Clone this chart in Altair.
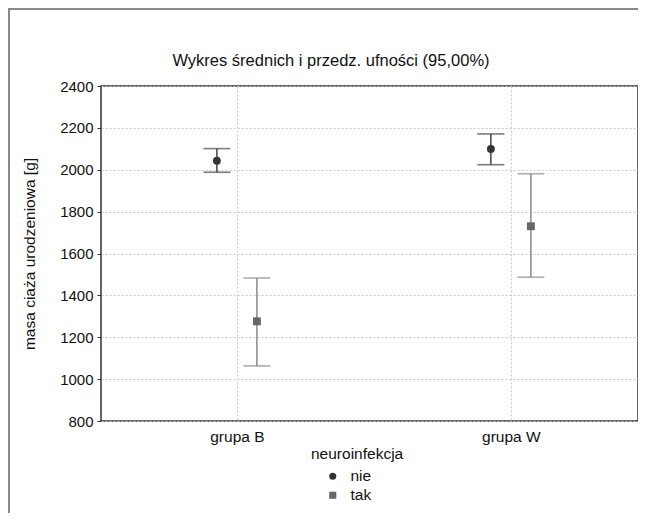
import altair as alt
import pandas as pd

groups = ["grupa B", "grupa W"]
infection = ["nie", "tak"]
# means and 95% CI per (group, infection)
mean_nie = [2043, 2099]
lo_nie = [1988, 2024]
hi_nie = [2101, 2171]
mean_tak = [1276, 1730]
lo_tak = [1063, 1487]
hi_tak = [1483, 1981]

title_text = "Wykres średnich i przedz. ufności (95,00%)"

rows = []
for gi, g in enumerate(groups):
    rows.append(dict(group=g, idx=gi, inf="nie", mean=mean_nie[gi], lo=lo_nie[gi], hi=hi_nie[gi]))
    rows.append(dict(group=g, idx=gi, inf="tak", mean=mean_tak[gi], lo=lo_tak[gi], hi=hi_tak[gi]))
df = pd.DataFrame(rows)

FONT = "Liberation Sans"
label_expr = "datum.value == 0 ? '%s' : '%s'" % (groups[0], groups[1])

base = alt.Chart(df).transform_calculate(
    pos="datum.idx + (datum.inf == 'nie' ? -0.073 : 0.073)"
)

xenc = alt.X(
    "pos:Q",
    scale=alt.Scale(domain=[-0.496, 1.464], nice=False, zero=False),
    axis=alt.Axis(
        values=[0, 1], labelExpr=label_expr, title=None, ticks=False,
        grid=True, gridDash=[2, 2], gridColor="#c8c8c8", domain=False,
        labelFont=FONT, labelFontSize=15.5, labelColor="#111", labelPadding=8,
    ),
)
yscale = alt.Scale(domain=[800, 2400], nice=False, zero=False)

err_color = alt.condition(alt.datum.inf == "nie", alt.value("#444444"), alt.value("#8a8a8a"))

rules = base.mark_rule(strokeWidth=1.5).encode(
    x=xenc,
    y=alt.Y("lo:Q", scale=yscale,
            axis=alt.Axis(values=list(range(800, 2401, 200)), format="d",
                          title="masa ciaża urodzeniowa [g]",
                          ticks=True, tickSize=4, tickColor="#333", domain=False,
                          grid=True, gridDash=[2, 2], gridColor="#c8c8c8",
                          labelFont=FONT, labelFontSize=15, labelColor="#111", labelPadding=4,
                          titleFont=FONT, titleFontSize=15.5, titleFontWeight="normal", titleColor="#111",
                          titlePadding=22)),
    y2="hi:Q",
    color=err_color,
)
caps_hi = base.mark_tick(orient="horizontal", size=27, thickness=1.6).encode(
    x=alt.X("pos:Q"), y=alt.Y("hi:Q"), color=err_color)
caps_lo = base.mark_tick(orient="horizontal", size=27, thickness=1.6).encode(
    x=alt.X("pos:Q"), y=alt.Y("lo:Q"), color=err_color)

points = base.mark_point(filled=True, opacity=1, size=62).encode(
    x=alt.X("pos:Q"),
    y=alt.Y("mean:Q"),
    color=alt.Color("inf:N", scale=alt.Scale(domain=infection, range=["#333333", "#666666"]),
                    title="neuroinfekcja"),
    shape=alt.Shape("inf:N", scale=alt.Scale(domain=infection, range=["circle", "square"]),
                    title="neuroinfekcja"),
)

title_df = pd.DataFrame({"t": [title_text]})
title_mark = alt.Chart(title_df).mark_text(
    font=FONT, fontSize=16.5, fontWeight="normal", fill="#111", strokeOpacity=0,
    align="center", baseline="middle"
).encode(text="t:N", x=alt.value(230), y=alt.value(-25))

frame_left = alt.Chart(title_df).mark_rule(color="#888888", strokeWidth=2).encode(
    x=alt.value(-92), y=alt.value(-77), y2=alt.value(430))
frame_top = alt.Chart(title_df).mark_rule(color="#888888", strokeWidth=2).encode(
    x=alt.value(-93), x2=alt.value(540), y=alt.value(-77))

chart = alt.layer(frame_left, frame_top, title_mark, rules, caps_hi, caps_lo, points).properties(
    width=537, height=335,
    padding={"left": 93, "top": 78, "right": 0, "bottom": 92},
    autosize=alt.AutoSizeParams(type="none"),
).configure_view(
    stroke="#333333", strokeWidth=1.5
).configure_legend(
    orient="none", legendX=210, legendY=361, direction="vertical",
    titleFont=FONT, titleFontSize=15.5, titleFontWeight="normal", titleColor="#111",
    labelFont=FONT, labelFontSize=15.5, labelColor="#111",
    symbolOffset=14, symbolSize=50, rowPadding=2, labelOffset=10, titlePadding=6,
)

chart.save("out.html", embed_options={"renderer": "svg", "actions": False})
